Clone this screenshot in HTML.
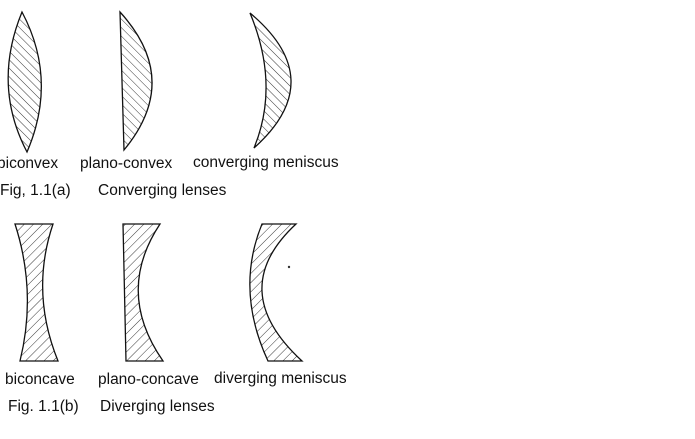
<!DOCTYPE html>
<html><head><style>
html,body{margin:0;padding:0;background:#fff;}
svg{display:block;}
text{font-family:"Liberation Sans",Arial,sans-serif;font-size:15.5px;fill:#111;}
</style></head><body>
<svg width="695" height="439" viewBox="0 0 695 439">
<defs>
<pattern id="hA" patternUnits="userSpaceOnUse" width="6" height="6" patternTransform="rotate(-45)">
<line x1="0" y1="0" x2="0" y2="6" stroke="#222" stroke-width="0.9"/>
</pattern>
<pattern id="hB" patternUnits="userSpaceOnUse" width="6.5" height="6.5" patternTransform="rotate(45)">
<line x1="0" y1="0" x2="0" y2="6.5" stroke="#222" stroke-width="0.9"/>
</pattern>
</defs>
<g stroke="#111" stroke-width="1.3" fill="url(#hA)">
<path d="M22,12 Q-8,85 27,152 Q58,80 22,12 Z"/>
<path d="M120,12 L124,150 Q182,80 120,12 Z"/>
<path d="M250,13 Q330,80 254,148 Q280,85 250,13 Z"/>
</g>
<g stroke="#111" stroke-width="1.3" fill="url(#hB)">
<path d="M15,224 L53,224 Q30,292 58,361 L20,361 Q37,292 15,224 Z"/>
<path d="M123,224 L160,224 Q115,292 163,361 L126,361 Z"/>
<path d="M262,224 L296,224 Q225,290 302,361 L268,361 Q235,290 262,224 Z"/>
</g>
<circle cx="289" cy="267" r="1.2" fill="#333"/>
<text x="-3" y="168">biconvex</text>
<text x="80" y="168">plano-convex</text>
<text x="193" y="167">converging meniscus</text>
<text x="0" y="195">Fig, 1.1(a)</text>
<text x="98" y="195">Converging lenses</text>
<text x="5" y="384">biconcave</text>
<text x="98" y="384">plano-concave</text>
<text x="214" y="383">diverging meniscus</text>
<text x="8" y="411">Fig. 1.1(b)</text>
<text x="100" y="411">Diverging lenses</text>
</svg>
</body></html>
